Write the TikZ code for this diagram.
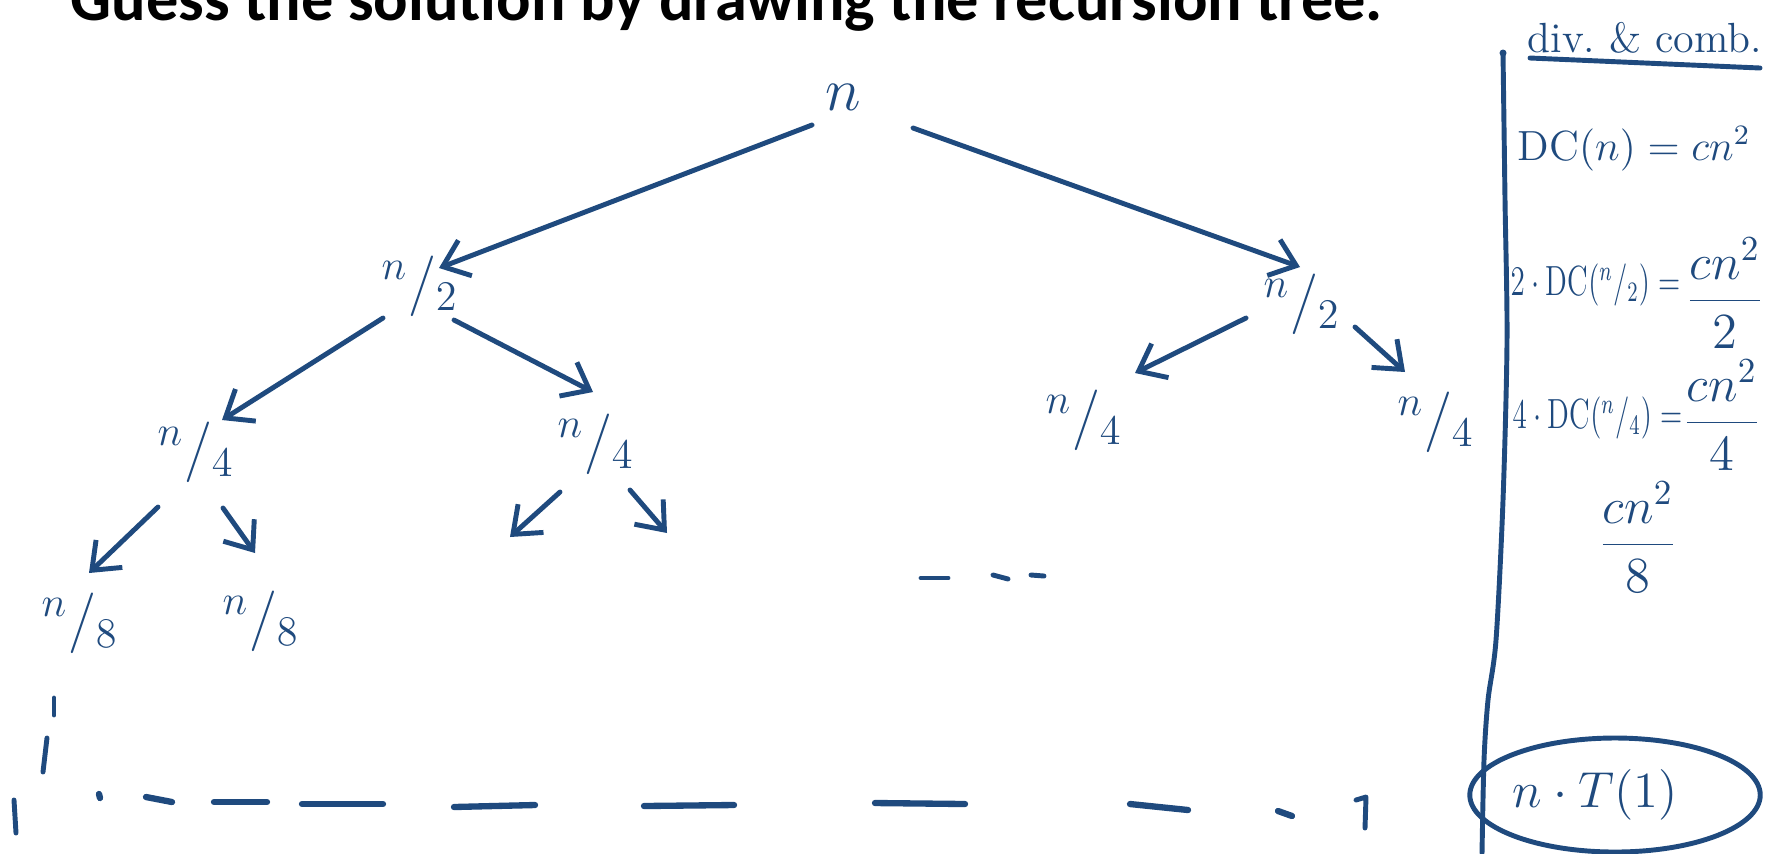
\documentclass[tikz,border=0pt]{standalone}
\usepackage{fontspec}
\newfontfamily\titlefont{Carlito}
\usetikzlibrary{arrows.meta, shapes.geometric, calc}
\definecolor{inkblue}{HTML}{1F4A7E}
\newcommand{\nfr}[2]{\ensuremath{^{#1}/_{#2}}}

\begin{document}
\begin{tikzpicture}[x=0.1mm, y=-0.1mm,
  ink/.style={draw=inkblue, line width=1.4pt, line cap=round, line join=round},
  arr/.style={ink, -{Straight Barb[length=2.4mm, width=3.8mm]}},
  val/.style={text=inkblue, font=\LARGE, inner sep=0pt},
  eq/.style={text=inkblue, font=\large, inner sep=0pt}]
  \useasboundingbox (0,0) rectangle (1766,853);
  % Title
  \node[anchor=base west, inner sep=0pt, font=\titlefont\bfseries\fontsize{18.3}{22}\selectfont] (title) at (70,20) {Guess the solution by drawing the recursion tree.};
  % Tree
  \node[val] (root) at (843,97) {$n$};
  \node[val] (l1a) at (420,286) {\nfr{n}{2}};
  \node[val] (l1b) at (1302,304) {\nfr{n}{2}};
  \node[val] (l2a) at (196,452) {\nfr{n}{4}};
  \node[val] (l2b) at (596,444) {\nfr{n}{4}};
  \node[val] (l2c) at (1084,420) {\nfr{n}{4}};
  \node[val] (l2d) at (1436,422) {\nfr{n}{4}};
  \node[val] (l3a) at (80,623) {\nfr{n}{8}};
  \node[val] (l3b) at (261,621) {\nfr{n}{8}};
  \coordinate (l2bl) at (510,537);
  \coordinate (l2br) at (667,533);
  \foreach \a/\ax/\ay/\b/\bx/\by in {root/-31/28/l1a/19/-18, root/70/31/l1b/-2/-37,
      l1a/-37/32/l2a/26/-32, l1a/34/34/l2b/-3/-52, l1b/-56/14/l2c/51/-47, l1b/53/23/l2d/-31/-50,
      l2a/-38/55/l3a/9/-50, l2a/27/56/l3b/-6/-68, l2b/-36/48/l2bl/0/0, l2b/34/46/l2br/0/0}
    \draw[arr] ($(\a)+(\ax,\ay)$) -- ($(\b)+(\bx,\by)$);
  % dots
  \foreach \xa/\ya/\xb/\yb in {921/578/948/578, 993/575/1008/579, 1031/575/1044/576,
    54/698/54/715, 47/738/43/772}
    \draw[ink] (\xa,\ya) -- (\xb,\yb);
  % bottom level
  \foreach \xa/\ya/\xb/\yb in {99/794/100/798, 146/797/172/802, 214/802/267/802, 302/804/383/804,
    454/807/535/805, 644/806/734/805, 875/803/965/804, 1130/804/1188/810, 1278/811/1292/816}
    \draw[ink, line width=1.8pt] (\xa,\ya) -- (\xb,\yb);
  \draw[ink] (14,800) -- (16,833);
  \draw[ink] (1356,800) -- (1366,797) -- (1365,828);
  % Div & comb
  \draw[ink] plot[smooth] coordinates {(1503,53) (1505,200) (1507,340) (1503,500) (1496,640) (1488,700) (1484,760) (1482,853)};
  \fill[inkblue] (1503,53) circle (0.35mm);
  \node[eq, anchor=base west] (head) at (1527,52) {div.\ \& comb.};
  \draw[ink] (1530,58) -- (1760,68);
  \node[eq, anchor=base west] (dcn) at (1517,160) {$\mathrm{DC}(n) = cn^2$};
  \node[eq, anchor=west] (dc2) at (1510,285) {\scalebox{0.69}[1]{$2\cdot\mathrm{DC}(\nfr{n}{2}) =$}};
  \node[eq, font=\Large] (fr2) at (1725,293) {$\displaystyle\frac{cn^2}{2}$};
  \node[eq, anchor=west] (dc4) at (1512,418) {\scalebox{0.69}[1]{$4\cdot\mathrm{DC}(\nfr{n}{4}) =$}};
  \node[eq, font=\Large] (fr4) at (1722,415) {$\displaystyle\frac{cn^2}{4}$};
  \node[eq, font=\Large] (fr8) at (1638,537) {$\displaystyle\frac{cn^2}{8}$};
  \node[eq, font=\Large, draw=inkblue, line width=1.4pt, ellipse, minimum width=27mm, minimum height=11.4mm] (leaf) at (1615,795) {$n\cdot T(1)$\hspace*{4mm}};
\end{tikzpicture}
\end{document}
